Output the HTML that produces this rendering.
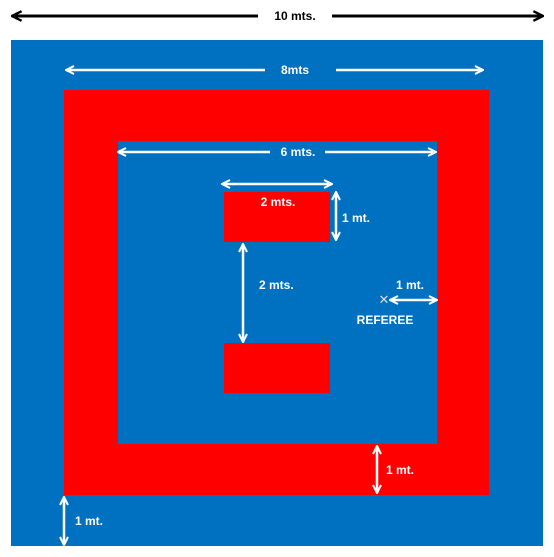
<!DOCTYPE html>
<html><head><meta charset="utf-8"><style>
html,body{margin:0;padding:0;background:#fff;width:554px;height:557px;overflow:hidden}
svg{display:block}
text{font-family:"Liberation Sans",sans-serif;font-weight:bold;font-size:12px;fill:#fff}
</style></head><body>
<svg width="554" height="557" viewBox="0 0 554 557">
<defs>
<marker id="aw" viewBox="0 0 10 10" refX="9" refY="5" markerWidth="4" markerHeight="4" orient="auto-start-reverse"><path d="M1,1 L9,5 L1,9" fill="none" stroke="#fff" stroke-width="2"/></marker>
<marker id="ab" viewBox="0 0 10 10" refX="9" refY="5" markerWidth="4" markerHeight="4" orient="auto-start-reverse"><path d="M1,1 L9,5 L1,9" fill="none" stroke="#000" stroke-width="2"/></marker>
</defs>
<g>
<line x1="12" y1="16" x2="258" y2="16" stroke="#000" stroke-width="3" marker-start="url(#ab)"/>
<line x1="332" y1="16" x2="543" y2="16" stroke="#000" stroke-width="3" marker-end="url(#ab)"/>
<text x="295" y="20" text-anchor="middle" style="fill:#000">10 mts.</text>
</g>
<rect x="11" y="40" width="532" height="506" fill="#0070c0"/>
<rect x="64" y="90" width="425" height="405" fill="#ff0000"/>
<rect x="118" y="141" width="319" height="303" fill="#0070c0"/>
<rect x="224" y="192" width="106" height="50" fill="#ff0000"/>
<rect x="224" y="343" width="106" height="50" fill="#ff0000"/>
<g stroke="#fff" stroke-width="2.5" fill="none">
<line x1="66" y1="70" x2="265" y2="70" marker-start="url(#aw)"/>
<line x1="336" y1="70" x2="483" y2="70" marker-end="url(#aw)"/>
<line x1="118" y1="152" x2="270" y2="152" marker-start="url(#aw)"/>
<line x1="325" y1="152" x2="436" y2="152" marker-end="url(#aw)"/>
<line x1="222" y1="184" x2="332" y2="184" marker-start="url(#aw)" marker-end="url(#aw)"/>
<line x1="336" y1="192" x2="336" y2="240" marker-start="url(#aw)" marker-end="url(#aw)"/>
<line x1="243" y1="244" x2="243" y2="342" marker-start="url(#aw)" marker-end="url(#aw)"/>
<line x1="390" y1="300" x2="437" y2="300" marker-start="url(#aw)" marker-end="url(#aw)"/>
<line x1="377" y1="446" x2="377" y2="493" marker-start="url(#aw)" marker-end="url(#aw)"/>
<line x1="64" y1="497" x2="64" y2="545" marker-start="url(#aw)" marker-end="url(#aw)"/>
</g>
<text x="295" y="74" text-anchor="middle">8mts</text>
<text x="298" y="156" text-anchor="middle">6 mts.</text>
<text x="278" y="206" text-anchor="middle">2 mts.</text>
<text x="342" y="222">1 mt.</text>
<text x="259" y="289">2 mts.</text>
<text x="396" y="289">1 mt.</text>
<text x="384" y="304" text-anchor="middle" style="font-weight:normal;font-size:13px;fill:#ddd">✕</text>
<text x="385" y="324" text-anchor="middle">REFEREE</text>
<text x="386" y="474">1 mt.</text>
<text x="75" y="525">1 mt.</text>
</svg>
</body></html>
